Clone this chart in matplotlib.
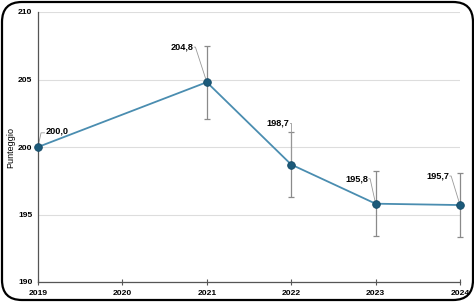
import matplotlib.pyplot as plt
from matplotlib.patches import FancyBboxPatch

# data
years = [2019, 2021, 2022, 2023, 2024]
scores = [200.0, 204.8, 198.7, 195.8, 195.7]
err = [0.0, 2.7, 2.4, 2.4, 2.4]
labels = ['200,0', '204,8', '198,7', '195,8', '195,7']
xticks = [2019, 2020, 2021, 2022, 2023, 2024]
yticks = [190, 195, 200, 205, 210]

# label offsets (x in years, y in score units) relative to each point
lab_dx = [0.09, -0.16, -0.025, -0.09, -0.13]
lab_dy = [1.2, 2.6, 3.1, 1.85, 2.15]

plt.rcParams['font.family'] = ['Liberation Sans Narrow', 'Liberation Sans', 'DejaVu Sans']

W, H = 474, 302
fig = plt.figure(figsize=(W / 100, H / 100), dpi=100)

# rounded black frame round the whole chart
frame = FancyBboxPatch((2 / W, 1 - 300 / H), 471 / W, 298 / H,
                       boxstyle='round,pad=0,rounding_size=%f' % (20 / W),
                       transform=fig.transFigure, facecolor='white', edgecolor='black',
                       linewidth=1.6, mutation_aspect=W / H, zorder=-1)
fig.patches.append(frame)

ax = fig.add_axes([38 / W, 1 - 282 / H, 422 / W, 270 / H])
ax.set_zorder(5)
ax.patch.set_alpha(0)

ax.errorbar(years[1:], scores[1:], yerr=err[1:], fmt='none', ecolor='#8a8a8a',
            elinewidth=0.9, capsize=2.5, capthick=0.9, zorder=2, clip_on=False)
ax.plot(years, scores, '-', color='#4a8db0', linewidth=1.3, zorder=3)
ax.plot(years, scores, 'o', color='#1c5a7a', markersize=5.5,
        markeredgecolor='#144a66', markeredgewidth=0.6, zorder=4, clip_on=False)

# value labels with small leader lines
for x, y, t, dx, dy in zip(years, scores, labels, lab_dx, lab_dy):
    if dx > 0:
        ax.plot([x, x + dx * 0.4, x + dx * 0.85], [y, y + dy - 0.15, y + dy - 0.15],
                color='#999999', lw=0.6, zorder=2)
        ax.text(x + dx, y + dy, t, ha='left', va='center', fontsize=6.6, fontweight='bold')
    else:
        ax.plot([x, x + dx + 0.025, x + dx + 0.01], [y, y + dy, y + dy],
                color='#999999', lw=0.6, zorder=2)
        ax.text(x + dx, y + dy, t, ha='right', va='center', fontsize=6.6,
                fontweight='bold')

ax.set_xlim(2019, 2024)
ax.set_ylim(190, 210)
ax.set_xticks(xticks)
ax.set_yticks(yticks)
ax.tick_params(axis='x', direction='inout', length=5, width=0.8, color='#555555',
               labelsize=6.1, pad=3)
ax.tick_params(axis='y', length=0, labelsize=6.1, pad=4)
for lab in ax.get_xticklabels() + ax.get_yticklabels():
    lab.set_fontweight('bold')

ax.grid(axis='y', color='#dddddd', linewidth=0.8)
ax.set_axisbelow(True)
for s in ['top', 'right']:
    ax.spines[s].set_visible(False)
ax.spines['left'].set_color('#555555')
ax.spines['bottom'].set_color('#555555')
ax.spines['left'].set_linewidth(0.9)
ax.spines['bottom'].set_linewidth(0.9)
ax.set_ylabel('Punteggio', fontsize=6.5, family=['Liberation Sans', 'DejaVu Sans'])
ax.yaxis.set_label_coords((15 - 38) / 422, 0.5)

fig.savefig('out.png', dpi=100)
